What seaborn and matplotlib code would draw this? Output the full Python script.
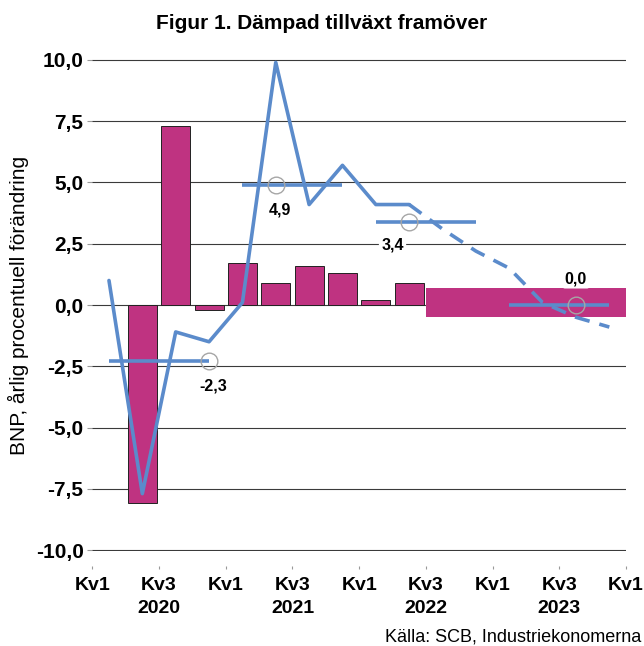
import numpy as np
import pandas as pd
import matplotlib
matplotlib.use("Agg")
import matplotlib.pyplot as plt
from matplotlib.ticker import FuncFormatter
import seaborn as sns

# quarters 2020 Kv1 .. 2023 Kv4 -> index 0..15
quarters = list(range(16))

# quarterly change (bars), 2020 Kv1 .. 2022 Kv2
bar_q = [0, 1, 2, 3, 4, 5, 6, 7, 8, 9]
bar_vals = [np.nan, -8.1, 7.3, -0.2, 1.7, 0.9, 1.6, 1.3, 0.2, 0.9]

# forecast band for 2022 Kv3 .. 2023 Kv4
band_q = [10, 11, 12, 13, 14, 15]
band_hi = [0.7, 0.7, 0.7, 0.7, 0.7, 0.7]
band_lo = [-0.5, -0.5, -0.5, -0.5, -0.5, -0.5]

# annual change per quarter (line): outcome and forecast
line_q = [0, 1, 2, 3, 4, 5, 6, 7, 8, 9]
line_vals = [1.0, -7.7, -1.1, -1.5, 0.1, 9.9, 4.1, 5.7, 4.1, 4.1]
fc_q = [9, 10, 11, 12, 13, 14, 15]
fc_vals = [4.1, 3.1, 2.2, 1.5, 0.1, -0.5, -0.9]

# yearly averages
years = ["2020", "2021", "2022", "2023"]
year_start = [0, 4, 8, 12]
year_end = [3, 7, 11, 15]
year_avg = [-2.3, 4.9, 3.4, 0.0]
marker_q = [3, 5, 9, 14]
label_offsets = [(3, -18), (3, -18), (-12, -17), (0, 19)]

tick_pos = [-0.5, 1.5, 3.5, 5.5, 7.5, 9.5, 11.5, 13.5, 15.5]
tick_labels = ["Kv1", "Kv3\n2020", "Kv1", "Kv3\n2021", "Kv1",
               "Kv3\n2022", "Kv1", "Kv3\n2023", "Kv1"]

BAR = "#BF3381"
LINE = "#5B8BCB"

sns.set_style("white")
plt.rcParams["font.family"] = ["Liberation Sans", "DejaVu Sans"]
plt.rcParams["text.color"] = "black"
plt.rcParams["axes.labelcolor"] = "black"
plt.rcParams["xtick.color"] = "black"
plt.rcParams["ytick.color"] = "black"

fig = plt.figure(figsize=(6.44, 6.46), dpi=100)
ax = fig.add_axes([92.3 / 644, 1 - 551 / 646, (626 - 92.3) / 644, (551 - 59) / 646])

# bars
df_bar = pd.DataFrame({"q": bar_q, "v": bar_vals})
sns.barplot(data=df_bar, x="q", y="v", native_scale=True, width=0.87,
            color=BAR, saturation=1, edgecolor="#222222", linewidth=0.7,
            errorbar=None, ax=ax, zorder=3)

# forecast band
ax.bar(band_q, np.array(band_hi) - np.array(band_lo), bottom=band_lo,
       width=1.0, color=BAR, linewidth=0, zorder=3)

# line, outcome and forecast
sns.lineplot(x=line_q, y=line_vals, color=LINE, lw=2.6, ax=ax, zorder=5)
sns.lineplot(x=fc_q, y=fc_vals, color=LINE, lw=2.6, ax=ax, zorder=5,
             linestyle=(0, (4.2, 2.8)))

# yearly averages
for y0, y1, avg, mq, off in zip(year_start, year_end, year_avg, marker_q, label_offsets):
    ax.plot([y0, y1], [avg, avg], color=LINE, lw=2.6, solid_capstyle="butt", zorder=5)
    ax.plot([mq], [avg], marker="o", ms=12, mfc="none", mec="#A6A6A6", mew=1.0, zorder=6)
    ax.annotate(f"{avg:.1f}".replace(".", ","), xy=(mq, avg), xytext=off,
                textcoords="offset points", ha="center", va="center",
                fontsize=11.5, fontweight="bold", zorder=7,
                bbox=dict(boxstyle="round,pad=0.15", fc="white", ec="none"))

ax.set_xlim(-0.5, 15.5)
ax.set_ylim(-10.04, 10.04)
ax.set_yticks(np.arange(-10, 10.1, 2.5))
ax.yaxis.set_major_formatter(FuncFormatter(lambda v, p: f"{v:.1f}".replace(".", ",")))
ax.yaxis.grid(True, color="#3a3a3a", lw=0.8, zorder=0)
ax.xaxis.grid(False)
ax.set_axisbelow(True)
for s in ax.spines.values():
    s.set_visible(False)

# moving the spine resets the ticks, so do it before styling them
ax.spines["bottom"].set_position(("outward", 11))
ax.set_xticks(tick_pos)
ax.set_xticklabels(tick_labels, fontsize=14, fontweight="bold", linespacing=1.45)
ax.tick_params(axis="x", bottom=True, length=2, width=0.8, color="#999999", pad=5.5)
ax.tick_params(axis="y", left=True, length=3.3, width=0.8, color="#999999", pad=3,
               labelsize=15)
for t in ax.get_yticklabels():
    t.set_fontweight("bold")

ax.set_xlabel("")
ax.set_ylabel("BNP, årlig procentuell förändring", fontsize=15, labelpad=5)

fig.text(322 / 644, 1 - 29 / 646, "Figur 1. Dämpad tillväxt framöver",
         ha="center", va="baseline", fontsize=15, fontweight="bold")
fig.text(641 / 644, 1 - 642 / 646, "Källa: SCB, Industriekonomerna",
         ha="right", va="baseline", fontsize=13)

fig.savefig("out.png", dpi=100)
